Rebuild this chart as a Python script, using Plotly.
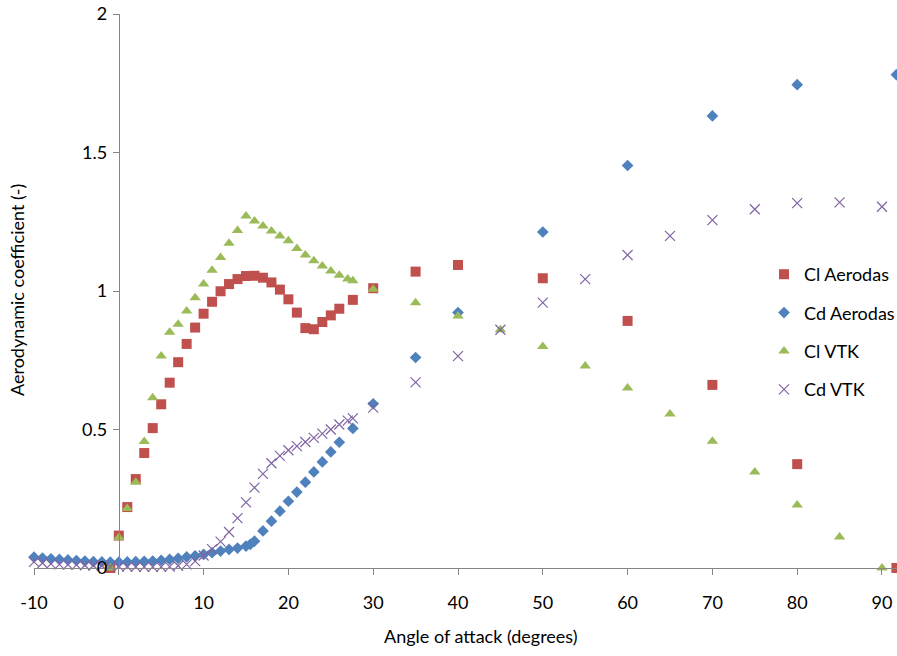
import plotly.graph_objects as go

# ---- data ----
cl_aer_alpha = [-1, 0, 1, 2, 3, 4, 5, 6, 7, 8, 9, 10, 11, 12, 13, 14, 15, 16, 17, 18, 19, 20,
                21, 22, 23, 24, 25, 26, 27.6, 30, 35, 40, 50, 60, 70, 80, 91.7]
cl_aer = [0, 0.117, 0.22, 0.321, 0.415, 0.505, 0.591, 0.669, 0.743, 0.809, 0.868, 0.918, 0.961,
          0.999, 1.025, 1.043, 1.054, 1.055, 1.048, 1.031, 1.005, 0.97, 0.922, 0.866, 0.862,
          0.888, 0.912, 0.936, 0.968, 1.01, 1.07, 1.094, 1.046, 0.892, 0.661, 0.375, 0]

cd_aer_alpha = [-10, -9, -8, -7, -6, -5, -4, -3, -2, -1, 0, 1, 2, 3, 4, 5, 6, 7, 8, 9, 10, 11,
                12, 13, 14, 15, 15.5, 16, 17, 18, 19, 20, 21, 22, 23, 24, 25, 26, 27.6, 30, 35,
                40, 50, 60, 70, 80, 91.7]
cd_aer = [0.039, 0.036, 0.033, 0.031, 0.029, 0.027, 0.025, 0.023, 0.022, 0.021, 0.021, 0.022,
          0.023, 0.024, 0.025, 0.028, 0.031, 0.035, 0.04, 0.044, 0.049, 0.055, 0.061, 0.067,
          0.072, 0.079, 0.085, 0.097, 0.134, 0.169, 0.205, 0.241, 0.274, 0.31, 0.347, 0.383,
          0.419, 0.454, 0.504, 0.593, 0.76, 0.922, 1.213, 1.453, 1.632, 1.745, 1.781]

cl_vtk_alpha = [-1, 0, 1, 2, 3, 4, 5, 6, 7, 8, 9, 10, 11, 12, 13, 14, 15, 16, 17, 18, 19, 20,
                21, 22, 23, 24, 25, 26, 27, 27.6, 30, 35, 40, 45, 50, 55, 60, 65, 70, 75, 80,
                85, 90]
cl_vtk = [0, 0.11, 0.215, 0.31, 0.457, 0.615, 0.765, 0.851, 0.88, 0.928, 0.976, 1.025, 1.075,
          1.121, 1.172, 1.218, 1.271, 1.253, 1.235, 1.217, 1.199, 1.181, 1.153, 1.13, 1.109,
          1.09, 1.072, 1.057, 1.043, 1.037, 1.006, 0.958, 0.91, 0.86, 0.8, 0.729, 0.65, 0.556,
          0.458, 0.347, 0.227, 0.112, 0]

cd_vtk_alpha = [-10, -9, -8, -7, -6, -5, -4, -3, -2, -1, 0, 1, 2, 3, 4, 5, 6, 7, 8, 9, 10, 11,
                12, 13, 14, 15, 16, 17, 18, 19, 20, 21, 22, 23, 24, 25, 26, 27, 27.6, 30, 35,
                40, 45, 50, 55, 60, 65, 70, 75, 80, 85, 90]
cd_vtk = [0.022, 0.018, 0.015, 0.013, 0.012, 0.011, 0.01, 0.009, 0.008, 0.007, 0.006, 0.005,
          0.004, 0.004, 0.004, 0.004, 0.005, 0.008, 0.013, 0.025, 0.045, 0.068, 0.095, 0.13,
          0.18, 0.237, 0.29, 0.34, 0.378, 0.405, 0.425, 0.44, 0.455, 0.47, 0.485, 0.5, 0.518,
          0.532, 0.54, 0.579, 0.67, 0.765, 0.86, 0.958, 1.043, 1.13, 1.199, 1.256, 1.295,
          1.317, 1.32, 1.304]

x_ticks = [-10, 0, 10, 20, 30, 40, 50, 60, 70, 80, 90]
x_tick_text = ["-10", "0", "10", "20", "30", "40", "50", "60", "70", "80", "90"]
y_ticks = [0, 0.5, 1, 1.5, 2]
y_tick_text = ["0", "0.5", "1", "1.5", "2"]

FONT = "Lato, 'Open Sans', sans-serif"
FS = 18
AXIS_COL = "#868686"
XMIN, XMAX = -10, 91.77
L, R, T, B = 34, 0, 14, 88
PW = 897 - L - R
PH = 656 - T - B

fig = go.Figure()
fig.add_trace(go.Scatter(x=cl_aer_alpha, y=cl_aer, mode="markers", name="Cl Aerodas",
                         legendgroup="a",
                         marker=dict(symbol="square", size=10, color="#C0504D"),
                         cliponaxis=False))
fig.add_trace(go.Scatter(x=cd_aer_alpha, y=cd_aer, mode="markers", name="Cd Aerodas",
                         legendgroup="b",
                         marker=dict(symbol="diamond", size=9, color="#4F81BD"),
                         cliponaxis=False))
fig.add_trace(go.Scatter(x=cl_vtk_alpha, y=cl_vtk, mode="markers", name="Cl VTK",
                         legendgroup="c",
                         marker=dict(symbol="triangle-up", size=10, color="#9BBB59"),
                         cliponaxis=False))
fig.add_trace(go.Scatter(x=cd_vtk_alpha, y=cd_vtk, mode="markers", name="Cd VTK",
                         legendgroup="d",
                         marker=dict(symbol="x-thin-open", size=10, color="#8064A2",
                                     line=dict(width=1.2, color="#8064A2")),
                         cliponaxis=False))

fig.update_layout(
    width=897, height=656,
    margin=dict(l=L, r=R, t=T, b=B, autoexpand=False),
    paper_bgcolor="white", plot_bgcolor="white",
    font=dict(family=FONT, size=FS, color="black"),
    showlegend=True,
    legend=dict(x=(764 - L) / PW, y=(568 - 332) / PH, xref="paper", yref="paper",
                xanchor="left", yanchor="middle",
                font=dict(family=FONT, size=FS), tracegroupgap=12,
                bgcolor="rgba(0,0,0,0)"),
    xaxis=dict(range=[XMIN, XMAX], tickmode="array", tickvals=x_ticks, ticktext=x_tick_text,
               showgrid=False, zeroline=False, showline=True, linecolor=AXIS_COL, linewidth=1,
               ticks="outside", ticklen=6, tickcolor=AXIS_COL, ticklabelstandoff=12,
               tickfont=dict(family=FONT, size=FS), automargin=False),
    yaxis=dict(range=[0, 2], tickmode="array", tickvals=y_ticks, ticktext=y_tick_text,
               anchor="free", position=(0 - XMIN) / (XMAX - XMIN),
               showgrid=False, zeroline=False, showline=True, linecolor=AXIS_COL, linewidth=1,
               ticks="outside", ticklen=6, tickcolor=AXIS_COL, ticklabelstandoff=2,
               tickfont=dict(family=FONT, size=FS), automargin=False),
)
fig.add_annotation(text="Aerodynamic coefficient (-)", xref="paper", yref="paper",
                   x=(17 - L) / PW, y=(568 - 290) / PH, textangle=-90, showarrow=False,
                   xanchor="center", yanchor="middle", font=dict(family=FONT, size=FS))
fig.add_annotation(text="Angle of attack (degrees)", xref="paper", yref="paper",
                   x=(481 - L) / PW, y=(568 - 636) / PH, showarrow=False,
                   xanchor="center", yanchor="middle", font=dict(family=FONT, size=FS))

fig.write_html("out.html")
